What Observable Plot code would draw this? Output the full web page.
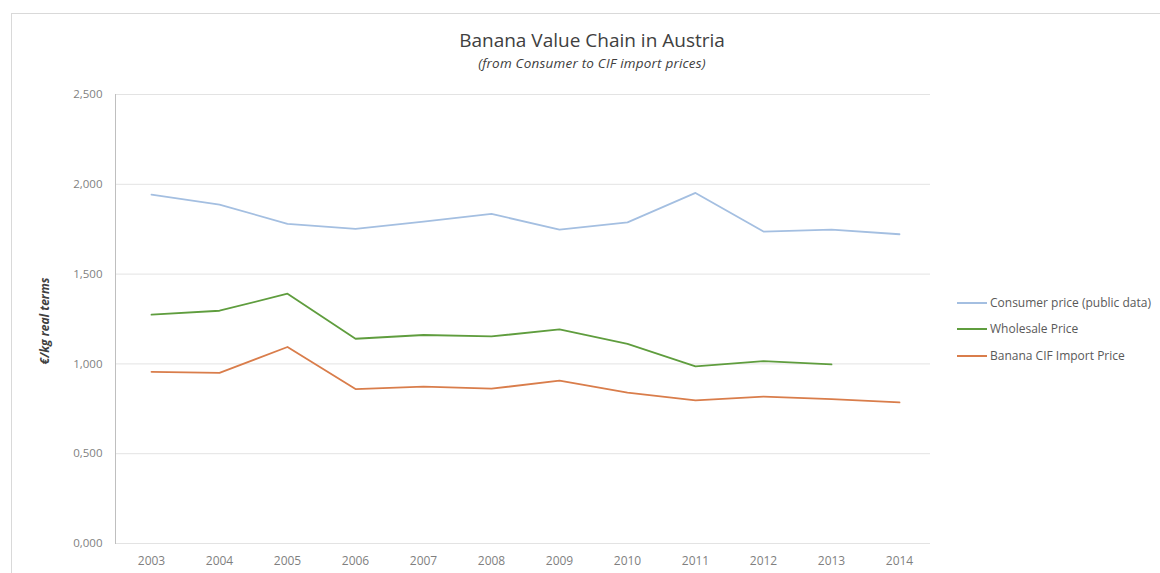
<!DOCTYPE html>
<html>
<head>
<meta charset="utf-8">
<script src="https://cdn.jsdelivr.net/npm/d3@7"></script>
<script src="https://cdn.jsdelivr.net/npm/@observablehq/plot@0.6"></script>
<style>
  body { margin: 0; background: #fff; font-family: "Open Sans", "Liberation Sans", sans-serif; }
  #wrap { position: relative; width: 1160px; height: 573px; overflow: hidden; }
  #border { position: absolute; left: 11px; top: 13px; width: 1200px; height: 700px; border: 1px solid #d9d9d9; box-sizing: border-box; }
  #title { position: absolute; left: 392px; width: 400px; top: 27px; text-align: center; font-size: 19px; color: #404040; white-space: nowrap; }
  #subtitle { position: absolute; left: 392px; width: 400px; top: 54px; text-align: center; font-size: 13.5px; font-style: italic; color: #404040; white-space: nowrap; letter-spacing: 0.2px; }
  .leg { position: absolute; left: 957px; font-size: 12px; color: #595959; white-space: nowrap; line-height: 16px; }
  .leg span.sw { display: inline-block; width: 30px; height: 2px; vertical-align: middle; margin-right: 3px; position: relative; top: -1px; }
  #chart { position: absolute; left: 0; top: 0; }
</style>
</head>
<body>
<div id="wrap">
  <div id="border"></div>
  <div id="chart"></div>
  <div id="title">Banana Value Chain in Austria</div>
  <div id="subtitle">(from Consumer to CIF import prices)</div>
  <div id="legend"></div>
</div>
<script>
const years = ["2003","2004","2005","2006","2007","2008","2009","2010","2011","2012","2013","2014"];
const seriesNames = ["Consumer price (public data)", "Wholesale Price", "Banana CIF Import Price"];
const consumer = [1.942, 1.887, 1.780, 1.752, 1.792, 1.835, 1.748, 1.788, 1.952, 1.737, 1.748, 1.722];
const wholesale = [1.274, 1.296, 1.391, 1.140, 1.161, 1.153, 1.192, 1.111, 0.986, 1.015, 0.997, null];
const cif = [0.956, 0.950, 1.094, 0.860, 0.874, 0.862, 0.907, 0.840, 0.797, 0.818, 0.804, 0.786];
const yTicks = [0, 0.5, 1, 1.5, 2, 2.5];
const colors = ["#a4bfe1", "#5f9d3e", "#d97d4b"];

const data = [];
[consumer, wholesale, cif].forEach((arr, i) => {
  arr.forEach((v, j) => { if (v != null) data.push({series: seriesNames[i], year: years[j], value: v}); });
});

const fmt = v => v.toFixed(3).replace(".", ",");

const chart = Plot.plot({
  width: 1160,
  height: 573,
  marginLeft: 115,
  marginRight: 230,
  marginTop: 94,
  marginBottom: 30,
  style: { fontFamily: '"Open Sans", "Liberation Sans", sans-serif', fontSize: "11px", color: "#7f7f7f", background: "transparent" },
  x: { type: "point", domain: years, range: [149, 900], padding: 0 },
  y: { domain: [0, 2.5] },
  color: { domain: seriesNames, range: colors },
  marks: [
    Plot.ruleY(yTicks, { stroke: "#e3e3e3", strokeWidth: 1 }),
    Plot.frame({ anchor: "left", stroke: "#bfbfbf" }),
    Plot.axisY({ ticks: yTicks, tickFormat: fmt, tickSize: 0, tickPadding: 13, label: null, fill: "#7f7f7f", fontSize: 11.5 }),
    Plot.axisX({ tickSize: 0, tickPadding: 13, label: null, fill: "#7f7f7f", fontSize: 12 }),
    Plot.line(data, { x: "year", y: "value", z: "series", stroke: "series", strokeWidth: 1.8 }),
    Plot.text(["€/kg real terms"], { frameAnchor: "left", textAnchor: "middle", dx: -70, dy: 2, rotate: -90, fontStyle: "italic", fontWeight: "bold", fontSize: 12, fill: "#404040" })
  ]
});
document.getElementById("chart").appendChild(chart);

const legend = document.getElementById("legend");
const legY = [303, 329, 356];
seriesNames.forEach((name, i) => {
  const d = document.createElement("div");
  d.className = "leg";
  d.style.top = (legY[i] - 8) + "px";
  d.innerHTML = `<span class="sw" style="background:${colors[i]}"></span>${name}`;
  legend.appendChild(d);
});
</script>
</body>
</html>
